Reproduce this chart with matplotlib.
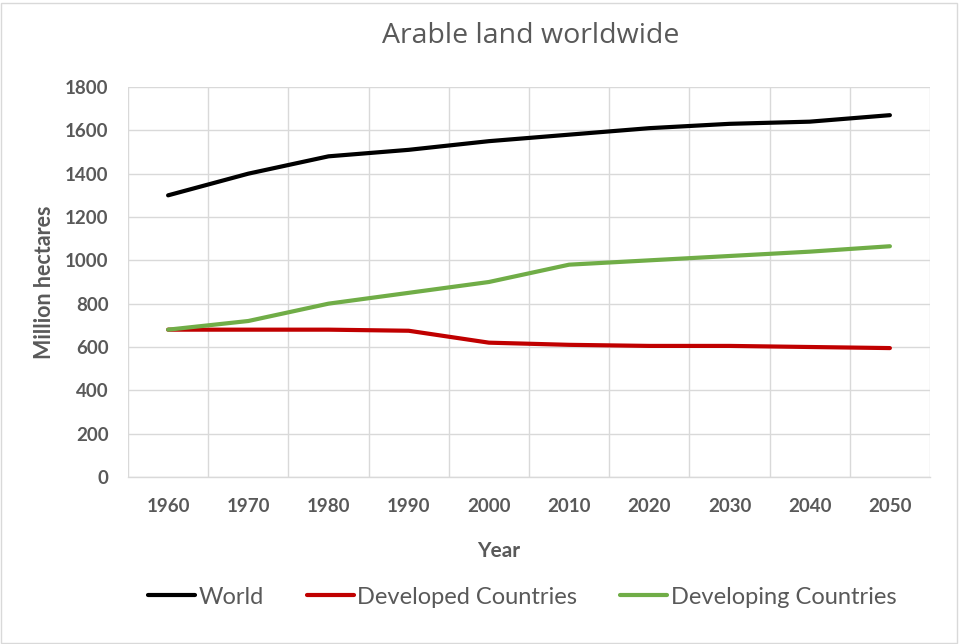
import numpy as np
import matplotlib.pyplot as plt
from matplotlib.patches import Rectangle

# ===============================
# data
# ===============================
years = ["1960", "1970", "1980", "1990", "2000", "2010", "2020", "2030", "2040", "2050"]
world = [1300, 1400, 1480, 1510, 1550, 1580, 1610, 1630, 1640, 1670]
developed = [680, 680, 680, 675, 620, 610, 605, 605, 600, 595]
developing = [680, 720, 800, 850, 900, 980, 1000, 1020, 1040, 1065]

y_ticks = [0, 200, 400, 600, 800, 1000, 1200, 1400, 1600, 1800]

grey = "#595959"
grid_c = "#d9d9d9"
plt.rcParams["font.family"] = ["Lato", "DejaVu Sans"]

# ===============================
# figure
# ===============================
fig = plt.figure(figsize=(9.59, 6.44), dpi=100)
ax = fig.add_axes([128/959, 1 - 477/644, (930 - 128)/959, (477 - 87)/644])

x = np.arange(len(years))
series = [("World", world, "#000000"),
          ("Developed Countries", developed, "#c00000"),
          ("Developing Countries", developing, "#70ad47")]
for name, vals, col in series:
    ax.plot(x, vals, color=col, lw=3.0, solid_capstyle="round",
            solid_joinstyle="round", label=name, zorder=3)

ax.set_xlim(-0.5, len(years) - 0.5)
ax.set_ylim(0, 1800)
ax.set_yticks(y_ticks)
ax.set_xticks(x)
ax.set_xticklabels(years)
ax.set_xticks(np.arange(-0.5, len(years)), minor=True)

ax.grid(True, axis="y", which="major", color=grid_c, lw=1.0)
ax.grid(True, axis="x", which="minor", color=grid_c, lw=1.0)
ax.set_axisbelow(True)
for s in ["top", "right", "left"]:
    ax.spines[s].set_visible(False)
ax.spines["bottom"].set_color(grid_c)
ax.spines["bottom"].set_linewidth(1.0)

ax.tick_params(axis="both", which="both", length=0)
ax.tick_params(axis="x", pad=15)
ax.tick_params(axis="y", pad=14)
for lab in ax.get_xticklabels() + ax.get_yticklabels():
    lab.set_fontsize(13.5)
    lab.set_fontweight("bold")
    lab.set_color(grey)

ax.set_xlabel("Year", fontsize=15, fontweight="bold", color=grey, labelpad=19)
ax.xaxis.label.set_x((499 - 128) / 802)
ax.set_ylabel("Million hectares", fontsize=15.5, fontweight="bold", color=grey, labelpad=7)

fig.text(531/959, 1 - 36/644, "Arable land worldwide", ha="center", va="center",
         fontsize=20.5, color=grey, family=["Open Sans", "DejaVu Sans"])

leg = fig.legend(loc="center", bbox_to_anchor=(0.5445, 1 - 597/644), ncol=3,
                 frameon=False, fontsize=17, handlelength=2.0, handletextpad=0.15,
                 columnspacing=1.8)
for t in leg.get_texts():
    t.set_color(grey)

# outer chart border
fig.patches.append(Rectangle((1/959, 1/644), 956/959, 640/644, transform=fig.transFigure,
                             fill=False, edgecolor=grid_c, lw=1.0))

plt.savefig("out.png", dpi=100)
